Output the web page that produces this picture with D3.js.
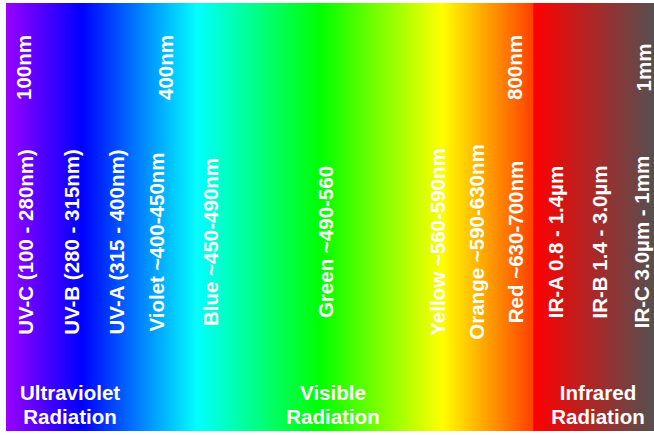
<!DOCTYPE html>
<html>
<head>
<meta charset="utf-8">
<script src="https://cdn.jsdelivr.net/npm/d3@7"></script>
<style>
  html, body { margin: 0; padding: 0; background: #ffffff; }
  svg { display: block; }
  text { font-family: "Liberation Sans", Arial, sans-serif; font-weight: bold; fill: #ffffff; }
</style>
</head>
<body>
<svg id="chart" width="654" height="435"></svg>
<script>
// Spectrum colour stops: position along the spectrum (0-100) and colour
const stopPos    = [0, 11.7, 29.5, 48.5, 67.3, 81.3, 81.45, 100];
const stopColors = ["#9900ff", "#0000ff", "#00ffff", "#00ff00", "#ffff00", "#ff4000", "#ff0000", "#555050"];

// Boundary labels (top row)
const boundaryLabels = ["100nm", "400nm", "800nm", "1mm"];
const boundaryPos    = [3.85, 25.8, 79.6, 99.6];

// Band labels (middle row)
const bandLabels = ["UV-C (100 - 280nm)", "UV-B (280 - 315nm)", "UV-A (315 - 400nm)",
  "Violet ~400-450nm", "Blue ~450-490nm", "Green ~490-560", "Yellow ~560-590nm",
  "Orange ~590-630nm", "Red ~630-700nm", "IR-A 0.8 - 1.4µm", "IR-B 1.4 - 3.0µm", "IR-C 3.0µm - 1mm"];
const bandPos = [4.17, 11.27, 18.21, 24.38, 32.72, 50.46, 67.75, 73.77, 79.78, 85.96, 92.75, 99.23];

// Region labels (bottom row)
const regionLines = [["Ultraviolet", "Radiation"], ["Visible", "Radiation"], ["Infrared", "Radiation"]];
const regionPos   = [9.88, 50.46, 91.36];

const W = 654, H = 435;
const plotLeft = 6, plotRight = 654, plotTop = 3, plotBottom = 431;
const x = d3.scaleLinear().domain([0, 100]).range([plotLeft, plotRight]);

const svg = d3.select("#chart");
const defs = svg.append("defs");
const grad = defs.append("linearGradient")
  .attr("id", "spectrum")
  .attr("gradientUnits", "userSpaceOnUse")
  .attr("x1", x(0)).attr("x2", x(100)).attr("y1", 0).attr("y2", 0);
grad.selectAll("stop").data(stopPos).join("stop")
  .attr("offset", d => d + "%")
  .attr("stop-color", (d, i) => stopColors[i]);

svg.append("rect")
  .attr("x", x(0)).attr("y", plotTop)
  .attr("width", x(100) - x(0)).attr("height", plotBottom - plotTop)
  .attr("fill", "url(#spectrum)");

const fs = 20.5;

svg.append("g").selectAll("text").data(boundaryLabels).join("text")
  .attr("transform", (d, i) => `translate(${x(boundaryPos[i])},67.5) rotate(-90)`)
  .attr("text-anchor", "middle")
  .style("font-size", fs + "px")
  .text(d => d);

svg.append("g").selectAll("text").data(bandLabels).join("text")
  .attr("transform", (d, i) => `translate(${x(bandPos[i])},242) rotate(-90)`)
  .attr("text-anchor", "middle")
  .style("font-size", fs + "px")
  .text(d => d);

const rg = svg.append("g").selectAll("text").data(regionLines).join("text")
  .attr("text-anchor", "middle")
  .style("font-size", fs + "px");
rg.each(function(lines, i) {
  const t = d3.select(this);
  lines.forEach((ln, j) => {
    t.append("tspan").attr("x", x(regionPos[i])).attr("y", 400 + j * 24).text(ln);
  });
});
</script>
</body>
</html>
